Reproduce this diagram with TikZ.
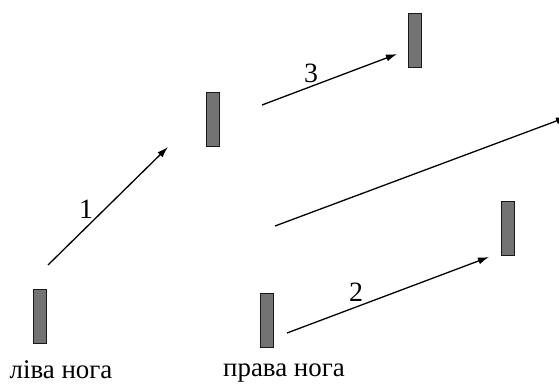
\documentclass[tikz,border=0pt]{standalone}
\usepackage{fontspec}
\setmainfont{Liberation Serif}
\usetikzlibrary{arrows.meta}
\tikzset{foot/.style={draw=black!90,line width=1pt,fill=black!55,minimum width=13bp,minimum height=54bp,inner sep=0pt},
  stepline/.style={line width=1.3bp,-{Latex[length=11bp,width=7bp]}},
  num/.style={font=\fontsize{28}{32}\selectfont}}
\begin{document}
\begin{tikzpicture}[x=1bp,y=-1bp]
\useasboundingbox (0,0) rectangle (559,388);
\node[foot] (L1) at (40,316){};\node[foot] (R1) at (267,320){};
\node[foot] (L2) at (213,119){};\node[foot] (R2) at (508,228){};
\node[foot] (L3) at (415,40){};
\coordinate (a1) at (48,265);\coordinate (b1) at (168,147);
\coordinate (a2) at (287,333);\coordinate (b2) at (489,257);
\coordinate (a3) at (262,105);\coordinate (b3) at (397,54);
\coordinate (a4) at (275,226);\coordinate (b4) at (567,117);
\draw[stepline] (a1)--(b1);\draw[stepline] (a3)--(b3);
\draw[stepline] (a2)--(b2);\draw[stepline] (a4)--(b4);
\node[num] (n1) at (86,209){1};\node[num] (n3) at (311,73){3};
\node[num] (n2) at (356,292){2};
\node[num,font=\fontsize{27}{30}\selectfont] (t1) at (61,370){ліва нога};
\node[num,font=\fontsize{27}{30}\selectfont] (t2) at (284,373){права нога};
\end{tikzpicture}
\end{document}
